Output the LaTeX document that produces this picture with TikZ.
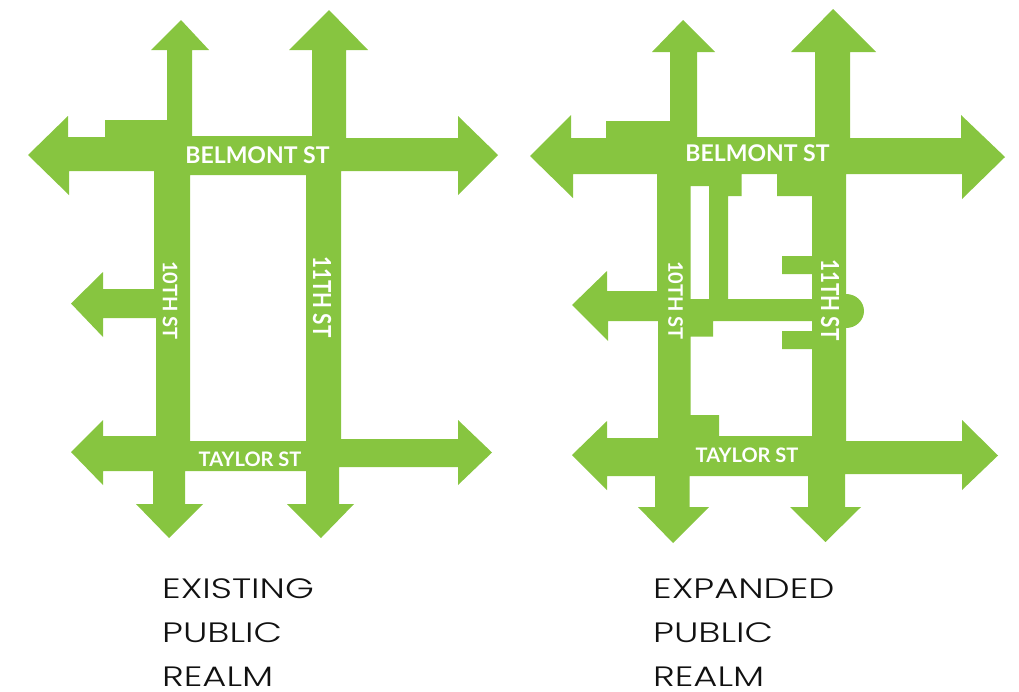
\documentclass[tikz,border=0pt]{standalone}
\usepackage{fontspec}
\usepackage{graphicx}
\setmainfont{Lato}
\newfontfamily\capfont{Poppins Light}
\newcommand{\capwide}[1]{\scalebox{1.32}[1]{#1}}
\definecolor{roadgreen}{HTML}{87C540}
\definecolor{captionink}{HTML}{111111}
\tikzset{
  road/.style={fill=roadgreen,draw=none,even odd rule},
  streetlabel/.style={text=white,inner sep=0pt,font=\fontsize{23}{23}\selectfont\bfseries},
  smalllabel/.style={text=white,inner sep=0pt,font=\fontsize{20}{20}\selectfont\bfseries},
  caption/.style={text=captionink,inner sep=0pt,anchor=base west,font=\capfont\fontsize{28}{28}\selectfont}
}
\begin{document}
\begin{tikzpicture}[x=1pt,y=-1pt]
\useasboundingbox (0,0) rectangle (1019,691);
% existing
\path[road]
 (181,20)--(209,50)--(192,50)--(192,136)--(312,136)--(312,50)--(289,50)--(329,10)--(368,50)--(346,50)--(346,138)--(458,138)--(458,116)--(498,155)--(458,195)--(458,171)--(341,171)--(341,439)--(458,439)--(458,420)--(492,452.5)--(458,485)--(458,467)--(339,467)--(339,504)--(354,504)--(321,538)--(287,504)--(306,504)--(306,471)--(185,471)--(185,504)--(203,504)--(169,538)--(136,504)--(153,504)--(153,471)--(103,471)--(103,485)--(71,452)--(103,420)--(103,436)--(156,436)--(156,318)--(103,318)--(103,337)--(71,303.5)--(103,272)--(103,289)--(154,289)--(154,171)--(69,171)--(69,195)--(28,155)--(68,116)--(68,137)--(105,137)--(105,120)--(167,120)--(167,50)--(151,50)--cycle
 (190,175)--(306,175)--(306,441)--(190,441)--cycle;
% expanded
\path[road]
 (683,20)--(715,52)--(697,52)--(697,137)--(815,137)--(815,52)--(791,52)--(833,9)--(876,52)--(850,52)--(850,138)--(961,138)--(961,115)--(1005,157)--(962,199)--(962,174)--(846,174)--(846,294) arc[start angle=-90,end angle=90,x radius=18,y radius=17] --(846,441)--(962,441)--(962,420)--(998,455.5)--(962,490)--(962,474)--(845,474)--(845,507)--(861,507)--(825.5,542)--(790,507)--(808,507)--(808,476)--(689.5,476)--(689.5,507)--(709,507)--(673,543)--(638,507)--(655,507)--(655,476)--(607,476)--(607,490)--(572,455)--(607,421)--(607,438)--(658,438)--(658,321)--(608,321)--(608,341)--(572,305)--(607,271)--(607,291)--(657,291)--(657,174)--(573,174)--(573,198)--(530,156)--(571,115)--(571,138)--(606,138)--(606,121)--(670,121)--(670,52)--(652,52)--cycle
 (690.5,186)--(709,186)--(709,299)--(690.5,299)--cycle
 (728,196)--(741.5,196)--(741.5,174)--(777,174)--(777,196)--(812,196)--(812,256)--(782,256)--(782,274)--(812,274)--(812,299)--(728,299)--cycle
 (690.5,336.5)--(713,336.5)--(713,321)--(812,321)--(812,331)--(782,331)--(782,349)--(812,349)--(812,436)--(719,436)--(719,415)--(690.5,415)--cycle;
% street labels
\node[streetlabel] (belA) at (257.5,155) {BELMONT ST};
\node[streetlabel] (belB) at (757.5,153) {BELMONT ST};
\node[smalllabel] (tayA) at (250,459) {TAYLOR ST};
\node[smalllabel] (tayB) at (747,455) {TAYLOR ST};
\node[smalllabel,rotate=-90] (tenA) at (170,300.5) {10TH ST};
\node[smalllabel,rotate=-90] (tenB) at (675.5,300.5) {10TH ST};
\node[streetlabel,rotate=-90] (elevA) at (322,297) {\scalebox{0.9}[1.08]{11TH ST}};
\node[streetlabel,rotate=-90] (elevB) at (830,300) {\scalebox{0.9}[1.08]{11TH ST}};
% captions
\node[caption] (capA1) at (162,598) {\capwide{EXISTING}};
\node[caption] (capA2) at (162,642) {\capwide{PUBLIC}};
\node[caption] (capA3) at (162,686) {\capwide{REALM}};
\node[caption] (capB1) at (653,598) {\capwide{EXPANDED}};
\node[caption] (capB2) at (653,642) {\capwide{PUBLIC}};
\node[caption] (capB3) at (653,686) {\capwide{REALM}};
\end{tikzpicture}
\end{document}
